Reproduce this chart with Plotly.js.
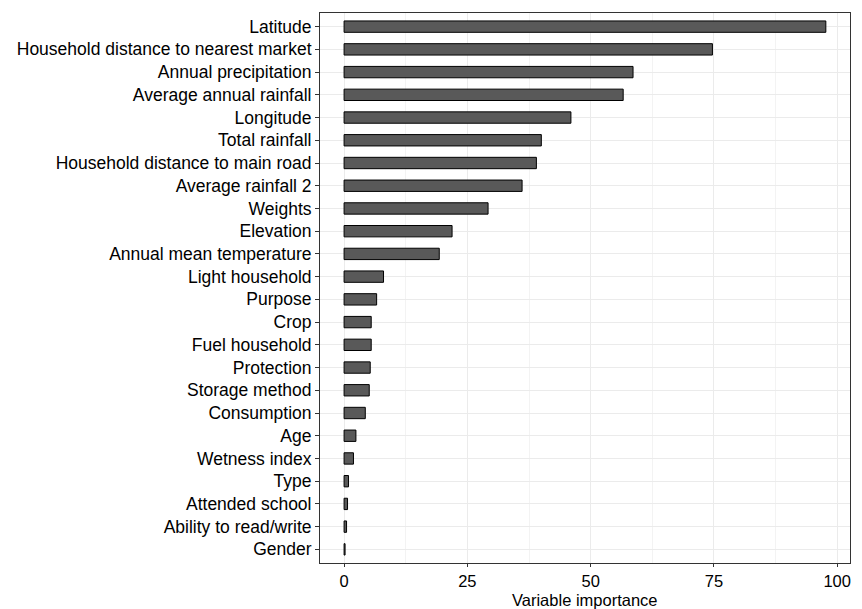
<!DOCTYPE html>
<html>
<head>
<meta charset="utf-8">
<script src="https://cdn.plot.ly/plotly-3.0.1.min.js"></script>
<style>html,body{margin:0;padding:0;background:#fff;}#chart{width:862px;height:609px;}</style>
</head>
<body>
<div id="chart"></div>
<script>
const variables = [
  "Latitude", "Household distance to nearest market", "Annual precipitation",
  "Average annual rainfall", "Longitude", "Total rainfall",
  "Household distance to main road", "Average rainfall 2", "Weights",
  "Elevation", "Annual mean temperature", "Light household", "Purpose",
  "Crop", "Fuel household", "Protection", "Storage method", "Consumption",
  "Age", "Wetness index", "Type", "Attended school", "Ability to read/write", "Gender"
];
const importance = [
  97.7, 74.7, 58.6, 56.6, 46.0, 40.0, 39.0, 36.1, 29.2, 21.9, 19.3, 8.0, 6.6,
  5.5, 5.5, 5.3, 5.1, 4.3, 2.4, 1.9, 0.9, 0.7, 0.5, 0.2
];
const xTicks = [0, 25, 50, 75, 100];
const xTitle = "Variable importance";

const trace = {
  type: 'bar',
  orientation: 'h',
  x: importance,
  y: variables,
  width: 0.5,
  marker: {color: '#595959', line: {color: '#000000', width: 1}},
  hoverinfo: 'x+y'
};

const layout = {
  width: 862, height: 609,
  margin: {l: 320, r: 12, t: 13, b: 46},
  paper_bgcolor: '#ffffff', plot_bgcolor: '#ffffff',
  showlegend: false,
  font: {family: '"Liberation Sans", Arial, sans-serif', size: 17.5, color: '#000000'},
  xaxis: {
    range: [-4.885, 102.6],
    tickvals: xTicks,
    ticktext: xTicks.map(String),
    showgrid: true, gridcolor: '#EBEBEB', gridwidth: 1,
    minor: {tickvals: [12.5, 37.5, 62.5, 87.5], showgrid: true, gridcolor: '#F3F3F3', gridwidth: 1, ticks: ''},
    zeroline: false,
    showline: true, mirror: true, linecolor: '#333333', linewidth: 1,
    ticks: 'outside', ticklen: 3, tickcolor: '#333333', tickwidth: 1,
    tickfont: {size: 16.5, color: '#000000'}
  },
  yaxis: {
    type: 'category',
    categoryorder: 'array',
    categoryarray: variables.slice().reverse(),
    range: [-0.6, variables.length - 0.4],
    showgrid: true, gridcolor: '#EBEBEB', gridwidth: 1,
    zeroline: false,
    showline: true, mirror: true, linecolor: '#333333', linewidth: 1,
    ticks: 'outside', ticklen: 4, tickcolor: '#333333', tickwidth: 1,
    tickfont: {size: 17.5, color: '#000000'}
  },
  annotations: [{
    text: xTitle,
    xref: 'paper', yref: 'paper', x: 0.5, y: 0,
    xanchor: 'center', yanchor: 'top',
    yshift: -26, showarrow: false,
    font: {size: 16.5, color: '#000000'}
  }]
};

Plotly.newPlot('chart', [trace], layout, {displayModeBar: false, staticPlot: true});
</script>
</body>
</html>
